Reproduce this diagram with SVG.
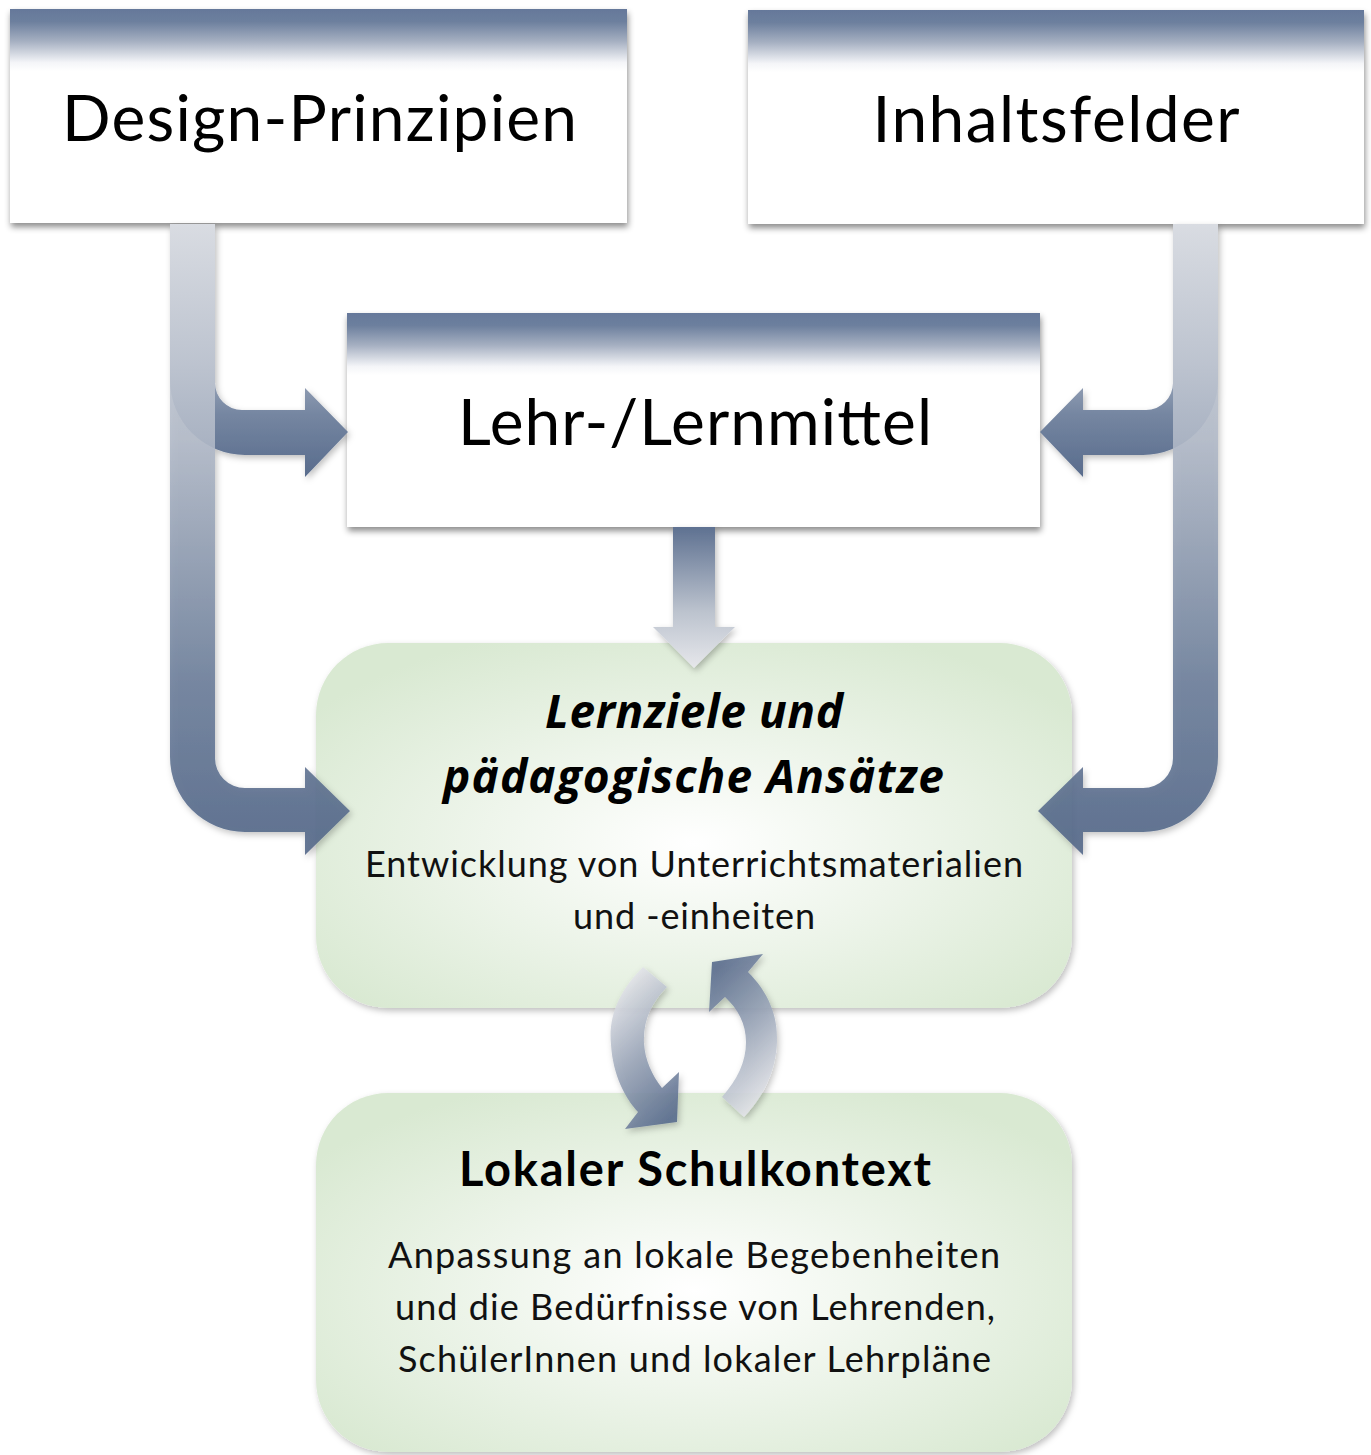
<svg xmlns="http://www.w3.org/2000/svg" width="1371" height="1455" viewBox="0 0 1371 1455">
  <defs>
    <style>
      .title { font-family: Lato, "Noto Sans", sans-serif; font-size: 64px; fill: #000; text-anchor: middle; }
      .head  { font-family: "Open Sans", Lato, sans-serif; font-size: 46px; font-weight: bold; font-style: italic; fill: #000; text-anchor: middle; }
      .headb { font-family: Lato, "Noto Sans", sans-serif; font-size: 47px; font-weight: bold; fill: #000; text-anchor: middle; }
      .body  { font-family: Lato, "Noto Sans", sans-serif; font-size: 36px; fill: #111; text-anchor: middle; }
    </style>
    <!-- white card with a steel-blue band fading in from the top -->
    <linearGradient id="cardTop" x1="0" y1="0" x2="0" y2="1">
      <stop offset="0" stop-color="#65789a"/>
      <stop offset="0.06" stop-color="#6d809e"/>
      <stop offset="0.15" stop-color="#a5afc1"/>
      <stop offset="0.25" stop-color="#f4f5f8"/>
      <stop offset="0.29" stop-color="#ffffff"/>
      <stop offset="1" stop-color="#ffffff"/>
    </linearGradient>
    <radialGradient id="greenFill" cx="0.5" cy="0.55" r="0.62">
      <stop offset="0" stop-color="#ffffff"/>
      <stop offset="0.45" stop-color="#eef5eb"/>
      <stop offset="1" stop-color="#d9e9d2"/>
    </radialGradient>
    <!-- connector shading -->
    <linearGradient id="outerBar" gradientUnits="userSpaceOnUse" x1="0" y1="224" x2="0" y2="835">
      <stop offset="0" stop-color="#d9dce2"/>
      <stop offset="0.35" stop-color="#b2bac8"/>
      <stop offset="0.75" stop-color="#6d7f9b"/>
      <stop offset="1" stop-color="#55698a"/>
    </linearGradient>
    <linearGradient id="innerBar" gradientUnits="userSpaceOnUse" x1="0" y1="224" x2="0" y2="478">
      <stop offset="0" stop-color="#d5d9e0"/>
      <stop offset="0.55" stop-color="#a3adbf"/>
      <stop offset="0.75" stop-color="#7586a1"/>
      <stop offset="1" stop-color="#586b8c"/>
    </linearGradient>
    <linearGradient id="downBar" gradientUnits="userSpaceOnUse" x1="0" y1="527" x2="0" y2="668">
      <stop offset="0" stop-color="#5e7191"/>
      <stop offset="0.6" stop-color="#bcc3ce"/>
      <stop offset="1" stop-color="#e6e7eb"/>
    </linearGradient>
    <linearGradient id="cycleDown" x1="0.3" y1="0" x2="0.7" y2="1">
      <stop offset="0" stop-color="#ececef"/>
      <stop offset="0.5" stop-color="#9da8ba"/>
      <stop offset="1" stop-color="#5a6d8e"/>
    </linearGradient>
    <linearGradient id="cycleUp" x1="0.3" y1="0" x2="0.7" y2="1">
      <stop offset="0" stop-color="#5a6d8e"/>
      <stop offset="0.5" stop-color="#9da8ba"/>
      <stop offset="1" stop-color="#ececef"/>
    </linearGradient>
    <filter id="cardShadow" x="-5%" y="-5%" width="112%" height="115%">
      <feDropShadow dx="1" dy="4" stdDeviation="3" flood-color="#000" flood-opacity="0.45"/>
    </filter>
    <filter id="softShadow" x="-10%" y="-10%" width="125%" height="125%">
      <feDropShadow dx="2" dy="3" stdDeviation="3" flood-color="#000" flood-opacity="0.25"/>
    </filter>
  </defs>

  <!-- nodes -->
  <g id="design-prinzipien">
    <rect x="10" y="9" width="617" height="214" fill="url(#cardTop)" filter="url(#cardShadow)"/>
    <text class="title" x="319.5" y="141" textLength="515">Design-Prinzipien</text>
  </g>
  <g id="inhaltsfelder">
    <rect x="748" y="10" width="616" height="214" fill="url(#cardTop)" filter="url(#cardShadow)"/>
    <text class="title" x="1056" y="142" textLength="367">Inhaltsfelder</text>
  </g>
  <g id="lehr-lernmittel">
    <rect x="347" y="313" width="693" height="214" fill="url(#cardTop)" filter="url(#cardShadow)"/>
    <text class="title" x="695" y="445" textLength="474">Lehr-/Lernmittel</text>
  </g>
  <g id="lernziele">
    <rect x="316" y="643" width="756" height="365" rx="72" ry="72" fill="url(#greenFill)" filter="url(#softShadow)"/>
    <text class="head" x="694" y="728" textLength="298">Lernziele und</text>
    <text class="head" x="693.5" y="793" textLength="501">pädagogische Ansätze</text>
    <text class="body" x="694" y="877" textLength="658">Entwicklung von Unterrichtsmaterialien</text>
    <text class="body" x="694" y="929" textLength="242">und -einheiten</text>
  </g>
  <g id="schulkontext">
    <rect x="316" y="1093" width="756" height="359" rx="72" ry="72" fill="url(#greenFill)" filter="url(#softShadow)"/>
    <text class="headb" x="695" y="1186" textLength="472">Lokaler Schulkontext</text>
    <text class="body" x="694" y="1268" textLength="612">Anpassung an lokale Begebenheiten</text>
    <text class="body" x="695" y="1320" textLength="600">und die Bedürfnisse von Lehrenden,</text>
    <text class="body" x="694.5" y="1372" textLength="593">SchülerInnen und lokaler Lehrpläne</text>
  </g>

  <!-- connectors -->
  <g id="connectors" filter="url(#softShadow)">
    <!-- left side: short bend into Lehr-/Lernmittel, long bend into Lernziele -->
    <path d="M170,224 H215 V383 A27,27 0 0 0 242,410 H305 V388 L348,432 L305,477 V455 H245 A75,75 0 0 1 170,380 Z" fill="url(#innerBar)"/>
    <path d="M170,224 H215 V758 A30,30 0 0 0 245,788 H305 V767 L350,811 L305,855 V832 H245 A75,75 0 0 1 170,757 Z" fill="url(#outerBar)" opacity="0.9"/>
    <!-- right side, mirrored -->
    <g transform="translate(1388,0) scale(-1,1)">
      <path d="M170,224 H215 V383 A27,27 0 0 0 242,410 H305 V388 L348,432 L305,477 V455 H245 A75,75 0 0 1 170,380 Z" fill="url(#innerBar)"/>
      <path d="M170,224 H215 V758 A30,30 0 0 0 245,788 H305 V767 L350,811 L305,855 V832 H245 A75,75 0 0 1 170,757 Z" fill="url(#outerBar)" opacity="0.9"/>
    </g>
    <!-- Lehr-/Lernmittel down to Lernziele -->
    <path d="M673,527 H715 V627 H735 L694,668 L653,627 H673 Z" fill="url(#downBar)"/>
    <!-- exchange between Lernziele and Schulkontext -->
    <path d="M643,967 C620,990 608,1015 611,1045 C613,1075 625,1098 638,1112 L625,1129 L677,1122 L679,1072 L662,1088 C652,1075 645,1060 644,1043 C643,1020 652,1002 667,987 Z" fill="url(#cycleDown)" opacity="0.9"/>
    <path d="M712,962 L763,954 L748,972 C768,992 778,1015 777,1042 C776,1072 763,1097 744,1117 L722,1097 C737,1080 746,1062 746,1042 C746,1024 738,1009 725,997 L709,1012 Z" fill="url(#cycleUp)" opacity="0.9"/>
  </g>
</svg>
